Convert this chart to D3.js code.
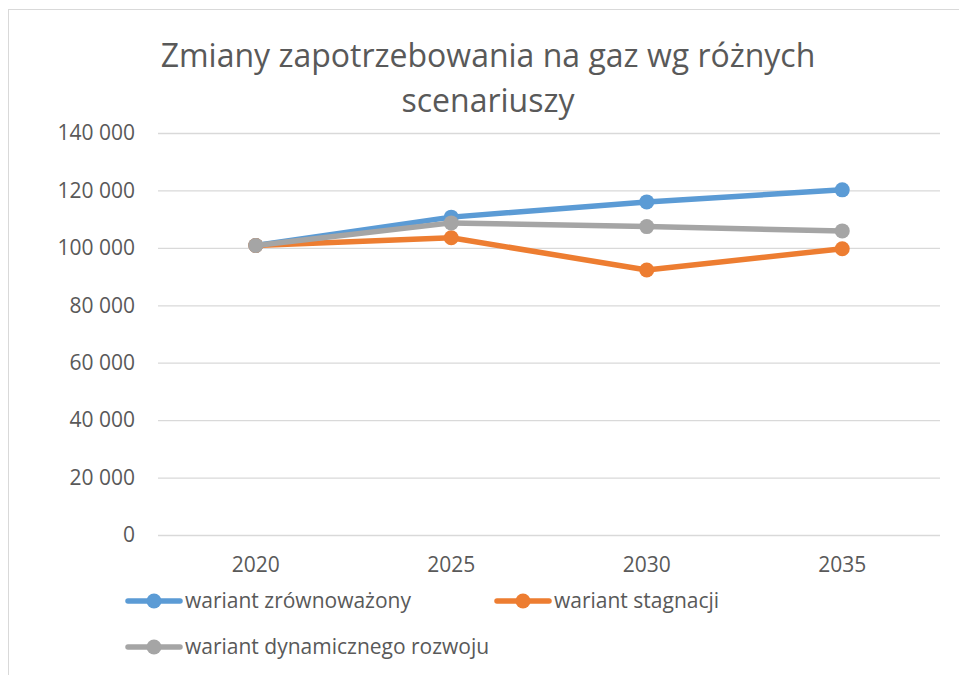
<!DOCTYPE html>
<html>
<head>
<meta charset="utf-8">
<script src="https://cdn.jsdelivr.net/npm/d3@7"></script>
<style>
  body { margin: 0; background: #fff; }
  text { font-family: "Open Sans", sans-serif; fill: #595959; }
</style>
</head>
<body>
<script>
// data
const years = ["2020", "2025", "2030", "2035"];
const zrownowazony = [100800, 110700, 116000, 120200];
const stagnacji = [100800, 103500, 92300, 99700];
const dynamiczny = [100800, 108700, 107400, 105900];
const seriesNames = ["wariant zrównoważony", "wariant stagnacji", "wariant dynamicznego rozwoju"];
const yTicks = [0, 20000, 40000, 60000, 80000, 100000, 120000, 140000];
const titleLines = ["Zmiany zapotrzebowania na gaz wg różnych", "scenariuszy"];

const colors = ["#5B9BD5", "#ED7D31", "#A5A5A5"];
const series = [zrownowazony, stagnacji, dynamiczny];

const width = 959, height = 675;
const plotLeft = 158, plotRight = 940, plotTop = 133, plotBottom = 535;

let svg = d3.select("body").append("svg")
    .attr("width", width)
    .attr("height", height)

// chart frame
svg.append("rect")
    .attr("x", 8.5).attr("y", 9.5)
    .attr("width", 1000).attr("height", 700)
    .attr("fill", "none")
    .attr("stroke", "#D9D9D9")

// title
svg.append("g").selectAll("text")
    .data(titleLines)
    .enter()
    .append("text")
      .attr("x", 488)
      .attr("y", (d, i) => 67 + i * 45)
      .attr("text-anchor", "middle")
      .style("font-size", "32px")
      .text(d => d)

let x = d3.scaleBand().domain(years).range([plotLeft, plotRight])
let y = d3.scaleLinear().domain([0, 140000]).range([plotBottom, plotTop])

const loc = d3.formatLocale({decimal: ",", thousands: " ", grouping: [3], currency: ["", ""]})

// y axis with gridlines
let yAxis = d3.axisLeft(y)
    .tickValues(yTicks)
    .tickSize(-(plotRight - plotLeft))
    .tickPadding(23)
    .tickFormat(loc.format(",d"))

svg.append("g")
    .attr("transform", `translate(${plotLeft},0)`)
    .call(yAxis)
    .call(g => g.select(".domain").remove())
    .call(g => g.selectAll("line").attr("stroke", "#D9D9D9").attr("stroke-width", 1.3))
    .call(g => g.selectAll("text").style("font-size", "21px").attr("fill", "#595959").style("font-family", "Open Sans"))

// x axis labels
let xAxis = d3.axisBottom(x).tickSize(0).tickPadding(22)
svg.append("g")
    .attr("transform", `translate(0,${plotBottom})`)
    .call(xAxis)
    .call(g => g.select(".domain").remove())
    .call(g => g.selectAll("text").style("font-size", "21px").attr("fill", "#595959").style("font-family", "Open Sans"))

const cx = d => x(d) + x.bandwidth() / 2

let line = d3.line()
    .x((d, i) => cx(years[i]))
    .y(d => y(d))

// lines + markers
series.forEach((s, k) => {
  let g = svg.append("g")
  g.append("path")
      .datum(s)
      .attr("d", line)
      .attr("fill", "none")
      .attr("stroke", colors[k])
      .attr("stroke-width", 5.5)
      .attr("stroke-linejoin", "round")
      .attr("stroke-linecap", "round")
  g.selectAll("circle")
      .data(s)
      .enter()
      .append("circle")
        .attr("cx", (d, i) => cx(years[i]))
        .attr("cy", d => y(d))
        .attr("r", 7.5)
        .attr("fill", colors[k])
})

// legend
const legendPos = [[126, 601], [495, 601], [126, 647]]
let legend = svg.append("g")
seriesNames.forEach((name, k) => {
  let [lx, ly] = legendPos[k]
  let item = legend.append("g").attr("transform", `translate(${lx},${ly})`)
  item.append("line")
      .attr("x1", 2).attr("x2", 54)
      .attr("stroke", colors[k])
      .attr("stroke-width", 5.5)
      .attr("stroke-linecap", "round")
  item.append("circle")
      .attr("cx", 28).attr("r", 7.5)
      .attr("fill", colors[k])
  item.append("text")
      .attr("x", 59)
      .attr("dy", "0.35em")
      .style("font-size", "21px")
      .text(name)
})
</script>
</body>
</html>
